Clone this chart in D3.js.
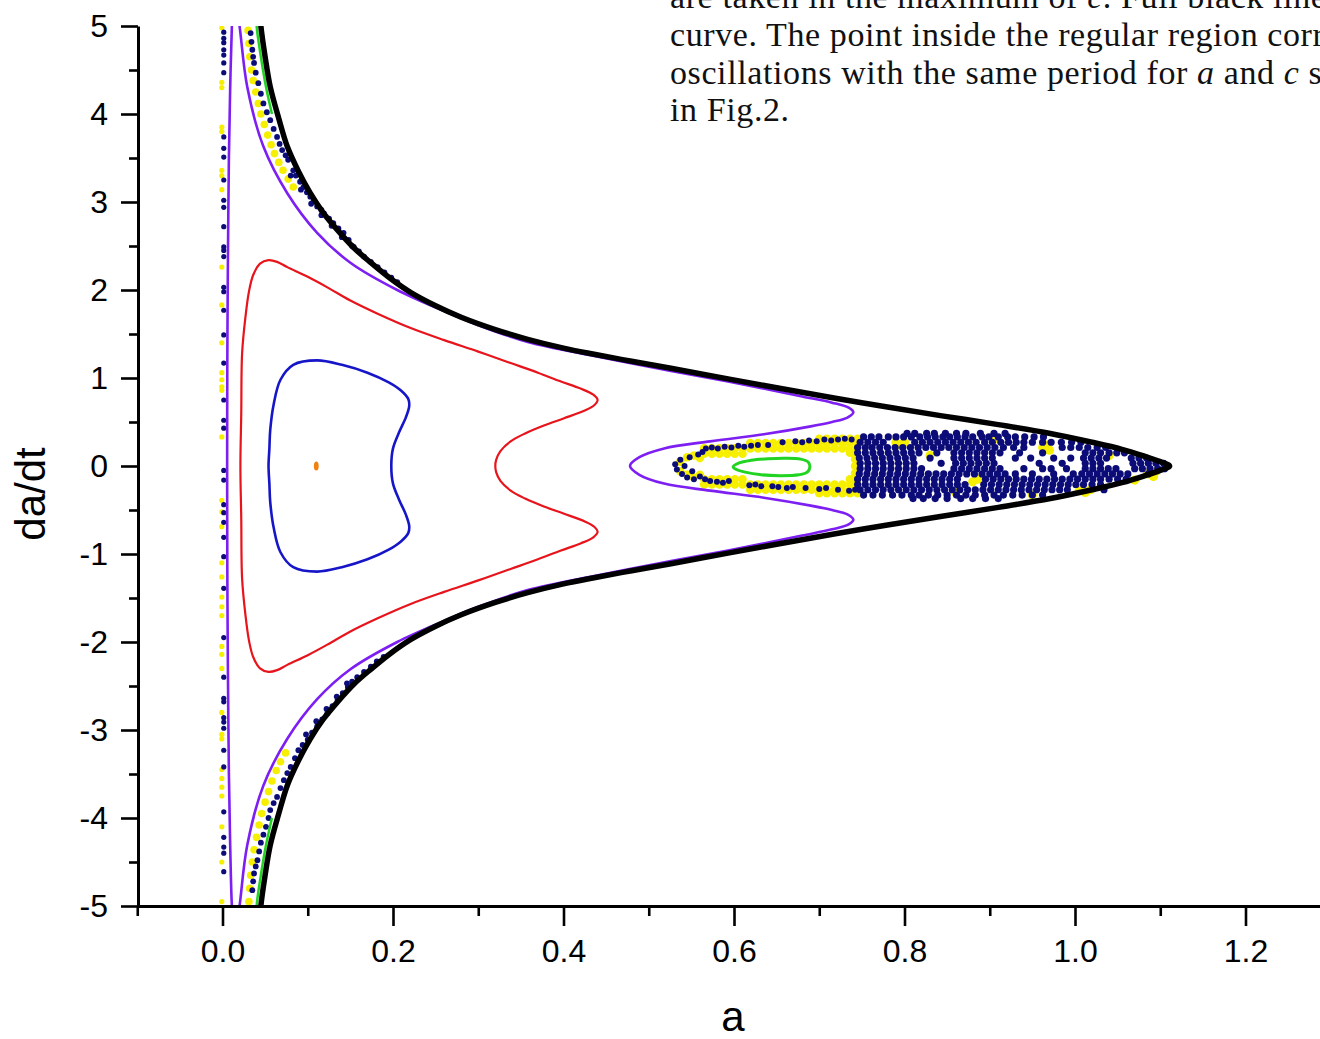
<!DOCTYPE html>
<html>
<head>
<meta charset="utf-8">
<script src="https://cdn.jsdelivr.net/npm/d3@7"></script>
<style>
  body { margin: 0; background: #fff; }
  svg { display: block; }
  .tick text { font-family: "Liberation Sans", Arial, sans-serif; }
</style>
</head>
<body>
<svg id="chart" width="1320" height="1039"></svg>
<script>
// axis ticks
var xMajor = [0, 0.2, 0.4, 0.6, 0.8, 1.0, 1.2];
var xMinor = [-0.1, 0.1, 0.3, 0.5, 0.7, 0.9, 1.1];
var yMajor = [-5, -4, -3, -2, -1, 0, 1, 2, 3, 4, 5];
var yMinor = [-4.5, -3.5, -2.5, -1.5, -0.5, 0.5, 1.5, 2.5, 3.5, 4.5];

// bounding curve (black), top -> tip -> bottom
var blackCurve = [
  [0.043,5.3],[0.045,5.0],[0.050,4.65],[0.056,4.31],[0.066,3.95],[0.076,3.63],[0.089,3.35],
  [0.103,3.10],[0.118,2.88],[0.135,2.68],[0.154,2.48],[0.174,2.31],[0.197,2.13],[0.221,1.97],
  [0.250,1.82],[0.280,1.69],[0.320,1.55],[0.358,1.44],[0.400,1.34],[0.436,1.27],[0.480,1.19],
  [0.526,1.11],[0.593,0.99],[0.655,0.88],[0.719,0.77],[0.780,0.67],[0.844,0.57],[0.910,0.47],
  [0.971,0.37],[1.020,0.27],[1.055,0.19],[1.082,0.11],[1.100,0.05],[1.111,0],
  [1.100,-0.05],[1.082,-0.11],[1.055,-0.19],[1.020,-0.27],[0.971,-0.37],[0.910,-0.47],
  [0.844,-0.57],[0.780,-0.67],[0.719,-0.77],[0.655,-0.88],[0.593,-0.99],[0.526,-1.11],
  [0.480,-1.19],[0.436,-1.27],[0.400,-1.34],[0.358,-1.44],[0.320,-1.55],[0.280,-1.69],
  [0.250,-1.82],[0.221,-1.97],[0.197,-2.13],[0.174,-2.31],[0.154,-2.48],[0.135,-2.68],
  [0.118,-2.88],[0.103,-3.10],[0.089,-3.35],[0.076,-3.63],[0.066,-3.95],[0.056,-4.31],
  [0.050,-4.65],[0.045,-5.0],[0.043,-5.3]
];

// thin green slivers next to the bounding curve
var greenEdgeTop = [[0.039,5.3],[0.040,5.0],[0.045,4.65],[0.051,4.31],[0.058,4.0]];
var greenEdgeBottom = [[0.039,-5.3],[0.040,-5.0],[0.045,-4.65],[0.051,-4.31],[0.058,-4.0]];

// violet orbit (closed, leaves the frame top and bottom)
var violetCurve = [
  [0.013,5.4],[0.011,5.0],[0.009,4.3],[0.0075,3.5],[0.0065,2.5],[0.0058,1.5],[0.0055,0.5],
  [0.0055,-0.5],[0.0058,-1.5],[0.0065,-2.5],[0.0075,-3.5],[0.009,-4.3],[0.011,-5.0],[0.014,-5.4],
  [0.020,-5.0],[0.029,-4.31],[0.048,-3.63],[0.076,-3.10],[0.111,-2.65],[0.150,-2.31],[0.205,-2.0],
  [0.260,-1.76],[0.300,-1.60],[0.358,-1.41],[0.436,-1.25],[0.526,-1.08],[0.593,-0.96],[0.640,-0.87],
  [0.680,-0.79],[0.715,-0.72],[0.735,-0.66],[0.740,-0.61],[0.733,-0.55],[0.715,-0.50],[0.690,-0.45],
  [0.635,-0.36],[0.572,-0.28],[0.518,-0.20],[0.489,-0.10],[0.478,0],[0.489,0.10],[0.518,0.20],
  [0.572,0.28],[0.635,0.36],[0.690,0.45],[0.715,0.50],[0.733,0.55],[0.740,0.61],[0.735,0.66],
  [0.715,0.72],[0.680,0.79],[0.640,0.87],[0.593,0.96],[0.526,1.08],[0.436,1.25],[0.358,1.41],
  [0.300,1.60],[0.260,1.76],[0.205,2.0],[0.150,2.31],[0.111,2.65],[0.076,3.10],[0.048,3.63],
  [0.029,4.31],[0.020,5.0],[0.014,5.4]
];

var redCurve = [
  [0.021,0],[0.022,0.6],[0.023,1.28],[0.027,1.70],[0.031,1.98],[0.036,2.17],[0.044,2.30],[0.054,2.34],
  [0.064,2.32],[0.076,2.26],[0.100,2.15],[0.123,2.03],[0.150,1.88],[0.182,1.73],[0.220,1.57],
  [0.260,1.43],[0.300,1.30],[0.338,1.17],[0.370,1.06],[0.397,0.96],[0.420,0.88],[0.435,0.81],
  [0.440,0.75],[0.436,0.69],[0.425,0.63],[0.400,0.54],[0.377,0.46],[0.355,0.37],[0.338,0.28],
  [0.326,0.17],[0.321,0.07],[0.320,0],
  [0.321,-0.07],[0.326,-0.17],[0.338,-0.28],[0.355,-0.37],[0.377,-0.46],[0.400,-0.54],[0.425,-0.63],
  [0.436,-0.69],[0.440,-0.75],[0.435,-0.81],[0.420,-0.88],[0.397,-0.96],[0.370,-1.06],[0.338,-1.17],
  [0.300,-1.30],[0.260,-1.43],[0.220,-1.57],[0.182,-1.73],[0.150,-1.88],[0.123,-2.03],[0.100,-2.15],
  [0.076,-2.26],[0.064,-2.32],[0.054,-2.34],[0.044,-2.30],[0.036,-2.17],[0.031,-1.98],[0.027,-1.70],
  [0.023,-1.28],[0.022,-0.6]
];

var blueCurve = [
  [0.054,0],[0.055,0.20],[0.056,0.41],[0.060,0.70],[0.068,0.98],[0.083,1.15],[0.111,1.20],[0.140,1.15],
  [0.170,1.06],[0.195,0.95],[0.209,0.86],[0.218,0.76],[0.219,0.68],[0.215,0.55],[0.207,0.38],
  [0.200,0.20],[0.198,0],
  [0.200,-0.20],[0.207,-0.38],[0.215,-0.55],[0.219,-0.68],[0.218,-0.76],[0.209,-0.86],[0.195,-0.95],
  [0.170,-1.06],[0.140,-1.15],[0.111,-1.20],[0.083,-1.15],[0.068,-0.98],[0.060,-0.70],[0.056,-0.41],
  [0.055,-0.20]
];

var greenCurve = [
  [0.599,-0.01],[0.606,0.035],[0.620,0.065],[0.640,0.082],[0.660,0.088],[0.678,0.078],[0.687,0.045],
  [0.689,-0.01],[0.686,-0.07],[0.676,-0.10],[0.655,-0.11],[0.632,-0.10],[0.613,-0.07],[0.603,-0.04]
];

var orangePoint = [0.110, 0];

// chaotic orbit: points on the a ~ 0 line
var columnNavyV = [4.93,4.86,4.81,4.73,4.67,4.58,4.47,3.74,3.61,3.51,3.25,3.02,2.94,2.72,2.49,2.45,2.38,
  2.03,1.98,1.77,1.49,1.17,0.75,0.52,0.43,-0.05,-0.16,-0.44,-0.53,-0.64,-0.81,-1.03,-1.39,-1.95,
  -2.40,-2.64,-2.68,-2.86,-2.91,-2.98,-3.23,-3.42,-3.93,-4.22,-4.33,-4.40,-4.61];
var columnYellowV = [4.98,4.36,4.30,3.85,3.80,3.36,3.30,3.14,2.26,1.83,1.40,1.06,0.98,0.90,0.86,0.33,
  -0.39,-0.52,-0.69,-1.10,-1.26,-1.49,-1.60,-1.70,-2.05,-2.14,-2.30,-2.80,-3.05,-3.10,-3.45,-3.55,
  -3.65,-3.75,-4.10,-4.50,-4.95];

// chaotic orbit: band along the bounding curve
var bandNavy = [
  [0.033,4.92],[0.034,4.82],[0.035,4.73],[0.036,4.65],[0.037,4.58],[0.039,4.47],[0.042,4.35],[0.045,4.23],
  [0.048,4.12],[0.052,4.02],[0.056,3.93],[0.060,3.83],[0.064,3.74],[0.067,3.66],[0.070,3.59],[0.074,3.53],
  [0.077,3.48],[0.083,3.36],[0.086,3.30],[0.091,3.23],[0.095,3.17],[0.099,3.11],[0.103,3.06],[0.107,3.02],
  [0.111,2.95],[0.116,2.91],[0.119,2.87],[0.125,2.81],[0.130,2.76],[0.136,2.70],[0.142,2.65],[0.148,2.57],
  [0.154,2.49],[0.160,2.44],[0.166,2.38],[0.174,2.32],[0.182,2.26],[0.190,2.20],[0.198,2.14],[0.205,2.09],
  [0.080,3.30],[0.092,3.14],[0.104,2.98],[0.116,2.85],[0.128,2.73],[0.140,2.60],[0.152,2.50],
  [0.035,-4.82],[0.036,-4.72],[0.037,-4.63],[0.039,-4.55],[0.041,-4.48],[0.043,-4.38],[0.045,-4.28],
  [0.048,-4.19],[0.051,-4.10],[0.054,-4.00],[0.056,-3.91],[0.060,-3.83],[0.064,-3.76],[0.068,-3.66],
  [0.072,-3.57],[0.076,-3.49],[0.080,-3.42],[0.085,-3.32],[0.089,-3.23],[0.094,-3.17],[0.100,-3.11],
  [0.105,-3.03],[0.111,-2.96],[0.117,-2.88],[0.123,-2.81],[0.129,-2.73],[0.135,-2.66],[0.141,-2.58],
  [0.147,-2.51],[0.152,-2.45],[0.158,-2.40],[0.166,-2.34],[0.174,-2.28],[0.181,-2.22],[0.189,-2.17],
  [0.098,-3.05],[0.110,-2.90],[0.122,-2.76],[0.134,-2.62],[0.146,-2.47]
];
var bandYellow = [
  [0.030,4.95],[0.031,4.80],[0.032,4.65],[0.034,4.50],[0.036,4.38],[0.039,4.25],[0.042,4.12],[0.045,4.00],
  [0.049,3.88],[0.053,3.76],[0.057,3.65],[0.061,3.55],[0.066,3.45],[0.071,3.36],[0.077,3.26],[0.083,3.17],
  [0.031,-4.95],[0.032,-4.80],[0.033,-4.65],[0.035,-4.50],[0.037,-4.36],[0.040,-4.22],[0.043,-4.08],
  [0.046,-3.95],[0.050,-3.82],[0.054,-3.70],[0.058,-3.58],[0.063,-3.46],[0.068,-3.36],[0.074,-3.26]
];

// chaotic orbit: ring round the green island
var ringNavy = [
  [0.567,0.20],[0.574,0.21],[0.581,0.20],[0.589,0.22],[0.597,0.21],[0.605,0.23],[0.612,0.22],[0.620,0.23],
  [0.628,0.24],[0.640,0.24],[0.657,0.27],[0.672,0.28],[0.680,0.27],[0.688,0.29],[0.697,0.28],[0.706,0.30],
  [0.714,0.29],[0.722,0.30],[0.730,0.31],[0.738,0.30],
  [0.531,0.02],[0.533,-0.04],[0.537,0.07],[0.539,-0.09],[0.542,0.00],[0.545,-0.13],[0.548,0.10],
  [0.551,-0.06],[0.553,-0.15],[0.558,0.13],[0.560,-0.12],[0.563,0.16],
  [0.566,-0.15],[0.572,-0.17],[0.580,-0.18],[0.587,-0.19],[0.594,-0.17],[0.618,-0.22],[0.625,-0.21],
  [0.632,-0.23],[0.645,-0.23],[0.652,-0.24],[0.662,-0.25],[0.669,-0.24],[0.684,-0.25],[0.700,-0.26],
  [0.708,-0.25],[0.722,-0.27],[0.735,-0.28],[0.742,-0.27]
];
var ringYellow = [
  [0.565,0.14],[0.574,0.14],[0.583,0.14],[0.592,0.14],[0.601,0.14],[0.610,0.14],
  [0.565,0.20],[0.574,0.20],[0.583,0.20],[0.592,0.20],[0.601,0.20],[0.610,0.20],
  [0.619,0.20],[0.628,0.20],[0.637,0.20],[0.646,0.20],[0.655,0.20],[0.664,0.20],[0.673,0.20],[0.682,0.20],
  [0.691,0.20],[0.700,0.20],[0.709,0.20],[0.718,0.20],[0.727,0.20],[0.736,0.20],[0.745,0.20],
  [0.619,0.26],[0.628,0.26],[0.637,0.26],[0.646,0.26],[0.655,0.26],[0.664,0.26],[0.673,0.26],[0.682,0.26],
  [0.691,0.26],[0.700,0.26],[0.709,0.26],[0.718,0.26],[0.727,0.26],[0.736,0.26],[0.745,0.26],
  [0.700,0.31],[0.709,0.31],[0.718,0.31],[0.727,0.31],[0.736,0.31],[0.745,0.31],
  [0.565,-0.15],[0.574,-0.15],[0.583,-0.15],[0.592,-0.15],[0.601,-0.15],[0.610,-0.15],
  [0.565,-0.21],[0.574,-0.21],[0.583,-0.21],[0.592,-0.21],[0.601,-0.21],[0.610,-0.21],
  [0.619,-0.21],[0.628,-0.21],[0.637,-0.21],[0.646,-0.21],[0.655,-0.21],[0.664,-0.21],[0.673,-0.21],
  [0.682,-0.21],[0.691,-0.21],[0.700,-0.21],[0.709,-0.21],[0.718,-0.21],[0.727,-0.21],[0.736,-0.21],
  [0.745,-0.21],
  [0.619,-0.27],[0.628,-0.27],[0.637,-0.27],[0.646,-0.27],[0.655,-0.27],[0.664,-0.27],[0.673,-0.27],
  [0.682,-0.27],[0.691,-0.27],[0.700,-0.27],[0.709,-0.27],[0.718,-0.27],[0.727,-0.27],[0.736,-0.27],
  [0.745,-0.27],
  [0.700,-0.31],[0.709,-0.31],[0.718,-0.31],[0.727,-0.31],[0.736,-0.31],[0.745,-0.31],
  [0.537,0.05],[0.537,-0.06],[0.545,0.10],[0.545,-0.10],[0.553,0.12],[0.553,-0.13],[0.560,0.09],[0.560,-0.10],
  [0.742,-0.15],[0.742,-0.08],[0.742,0.00],[0.742,0.08],[0.742,0.15],[0.736,0.15],[0.736,-0.15]
];

// chaotic orbit: dense cloud toward the tip, one row per da/dt level
var cloudRows = [
  [0.37, [0.803,0.812,0.826,0.835,0.848,0.861,0.872,0.889,0.905,0.918]],
  [0.33, [0.752,0.761,0.770,0.781,0.790,0.799,0.808,0.818,0.827,0.836,0.845,0.853,0.862,0.871,0.880,
          0.891,0.899,0.910,0.921,0.930,0.941,0.952,0.963]],
  [0.27, [0.748,0.757,0.766,0.775,0.812,0.821,0.830,0.839,0.848,0.857,0.866,0.875,0.884,0.894,0.903,
          0.913,0.922,0.931,0.940,0.950,0.962,0.972,0.984,0.996,1.007]],
  [0.21, [0.745,0.754,0.762,0.771,0.780,0.789,0.798,0.807,0.816,0.825,0.834,0.843,0.852,0.861,0.870,
          0.879,0.888,0.897,0.906,0.916,0.928,0.940,0.985,0.995,1.005,1.015,1.026,1.036]],
  [0.15, [0.745,0.754,0.763,0.772,0.781,0.790,0.799,0.808,0.817,0.838,0.858,0.867,0.876,0.885,0.894,
          0.903,0.912,0.935,0.962,1.012,1.021,1.030,1.040,1.049,1.058]],
  [0.09, [0.747,0.756,0.765,0.774,0.783,0.792,0.801,0.810,0.830,0.858,0.867,0.876,0.885,0.894,0.903,
          0.930,0.948,0.975,0.995,1.010,1.019,1.028,1.037,1.066,1.075,1.084]],
  [0.03, [0.748,0.757,0.766,0.775,0.784,0.793,0.802,0.811,0.843,0.860,0.869,0.878,0.887,0.896,0.905,
          0.958,0.985,1.012,1.021,1.030,1.068,1.077,1.086,1.095,1.104]],
  [-0.03, [0.748,0.757,0.766,0.775,0.784,0.793,0.802,0.811,0.820,0.858,0.867,0.876,0.885,0.894,0.903,
           0.912,0.940,0.962,0.972,0.990,1.012,1.021,1.030,1.039,1.048,1.070,1.079,1.088,1.097,1.105]],
  [-0.09, [0.747,0.756,0.765,0.774,0.783,0.792,0.801,0.810,0.819,0.828,0.837,0.846,0.855,0.864,0.873,
           0.882,0.891,0.900,0.909,0.918,0.930,0.950,0.975,0.998,1.008,1.017,1.026,1.035,1.044,1.053,
           1.062,1.086]],
  [-0.15, [0.745,0.754,0.763,0.772,0.781,0.790,0.799,0.808,0.817,0.826,0.835,0.844,0.853,0.862,0.895,
           0.904,0.913,0.922,0.931,0.940,0.949,0.958,0.967,0.976,0.985,0.994,1.003,1.012,1.021,1.030,
           1.040,1.050,1.060]],
  [-0.21, [0.745,0.754,0.763,0.772,0.781,0.790,0.799,0.808,0.817,0.826,0.835,0.844,0.853,0.862,0.871,
           0.893,0.902,0.911,0.920,0.929,0.938,0.947,0.956,0.965,0.974,0.983,0.992,1.001,1.010,1.020,1.030]],
  [-0.27, [0.748,0.757,0.766,0.775,0.784,0.793,0.802,0.811,0.820,0.829,0.838,0.847,0.856,0.865,0.874,
           0.883,0.892,0.901,0.910,0.919,0.928,0.937,0.946,0.955,0.964,0.973,0.982,0.991,1.034]],
  [-0.33, [0.752,0.763,0.774,0.786,0.797,0.808,0.817,0.828,0.839,0.850,0.861,0.872,0.883,0.894,0.905,
           0.916,0.927,0.938,0.950,0.962]],
  [-0.37, [0.810,0.822,0.836,0.850,0.866,0.880,0.895,0.910]]
];
var cloudYellow = [
  [0.790,0.27],[0.800,0.27],[0.795,0.24],[0.880,-0.18],[0.886,-0.15],[0.962,0.21],[0.970,0.18],
  [0.968,0.24],[1.005,-0.27],[1.018,-0.27],[1.012,-0.30],[1.085,-0.09],[1.095,-0.06],[1.092,-0.12],
  [0.830,0.12],[0.905,0.30],[1.040,0.12],[0.860,-0.30],[0.950,-0.33],[1.070,-0.16]
];

var textLines = [
  {y: 8,   parts: [["are taken in the maximum of ", false], ["c", true], [". Full black line is the bounding", false]]},
  {y: 46,  parts: [["curve. The point inside the regular region corresponds to", false]]},
  {y: 84,  parts: [["oscillations with the same period for ", false], ["a", true], [" and ", false], ["c", true], [" shown", false]]},
  {y: 121, parts: [["in Fig.2.", false]]}
];

var svg = d3.select("#chart");
var x = d3.scaleLinear().domain([-0.1, 1.3]).range([137.25, 1330.75]);
var y = d3.scaleLinear().domain([-5, 5]).range([906, 26]);

svg.append("rect").attr("width", 1320).attr("height", 1039).attr("fill", "#fff");

svg.append("clipPath").attr("id", "plotClip")
  .append("rect").attr("x", 138).attr("y", 26).attr("width", 1200).attr("height", 880);

var plot = svg.append("g").attr("clip-path", "url(#plotClip)");

function dots(data, r, color) {
  plot.append("g").selectAll("circle")
    .data(data)
    .enter().append("circle")
      .attr("cx", function(d) { return x(d[0]); })
      .attr("cy", function(d) { return y(d[1]); })
      .attr("r", r)
      .attr("fill", color);
}

var yellow = "#f7ef00", navy = "#0c0c78";

dots(columnYellowV.map(function(v) { return [-0.0008, v]; }), 2.6, yellow);
dots(bandYellow, 3.8, yellow);
dots(ringYellow, 4.3, yellow);
dots(cloudYellow, 4.6, yellow);

var cloudNavy = [];
cloudRows.forEach(function(row) {
  row[1].forEach(function(a) { cloudNavy.push([a, row[0]]); });
});

dots(columnNavyV.map(function(v) { return [0.0015, v]; }), 2.6, navy);
dots(bandNavy, 2.9, navy);
dots(ringNavy, 3.0, navy);
dots(cloudNavy, 3.6, navy);

var line = d3.line()
  .x(function(d) { return x(d[0]); })
  .y(function(d) { return y(d[1]); });

function curve(data, closed, color, width) {
  plot.append("path")
    .datum(data)
    .attr("fill", "none")
    .attr("stroke", color)
    .attr("stroke-width", width)
    .attr("stroke-linejoin", "round")
    .attr("d", line.curve(closed ? d3.curveCatmullRomClosed : d3.curveCatmullRom)(data));
}

curve(greenEdgeTop, false, "#22d422", 2.5);
curve(greenEdgeBottom, false, "#22d422", 2.5);
curve(violetCurve, true, "#7d1ff2", 2.6);
curve(redCurve, true, "#e8141c", 2.2);
curve(blueCurve, true, "#1616c8", 2.6);
curve(greenCurve, true, "#22d422", 3);
curve(blackCurve, false, "#000", 5.5);

plot.append("ellipse")
  .attr("cx", x(orangePoint[0]))
  .attr("cy", y(orangePoint[1]))
  .attr("rx", 2.4).attr("ry", 4.5)
  .attr("fill", "#f08010");

// axes (plain hyphen for negatives, as in the original)
var fmtX = d3.format(".1f");
var fmtY = function(d) { return String(d); };
svg.append("g").attr("transform", "translate(0,906)")
  .call(d3.axisBottom(x).tickValues(xMajor).tickFormat(fmtX).tickSize(20).tickSizeOuter(0).tickPadding(13));
svg.append("g").attr("transform", "translate(0,906)")
  .call(d3.axisBottom(x).tickValues(xMinor).tickFormat("").tickSize(10).tickSizeOuter(0))
  .select(".domain").remove();

svg.append("g").attr("transform", "translate(138,0)")
  .call(d3.axisLeft(y).tickValues(yMajor).tickFormat(fmtY).tickSize(17).tickSizeOuter(0).tickPadding(13));
svg.append("g").attr("transform", "translate(138,0)")
  .call(d3.axisLeft(y).tickValues(yMinor).tickFormat("").tickSize(9).tickSizeOuter(0))
  .select(".domain").remove();

svg.selectAll(".domain").attr("stroke", "#000").attr("stroke-width", 3);
svg.selectAll(".tick line").attr("stroke", "#000").attr("stroke-width", 2.6);
svg.selectAll(".tick text").attr("font-size", 32).attr("fill", "#000");

svg.append("text")
  .attr("x", 733).attr("y", 1031)
  .attr("text-anchor", "middle")
  .attr("font-family", "Liberation Sans, Arial, sans-serif")
  .attr("font-size", 42)
  .text("a");

svg.append("text")
  .attr("transform", "translate(45,494) rotate(-90)")
  .attr("text-anchor", "middle")
  .attr("font-family", "Liberation Sans, Arial, sans-serif")
  .attr("font-size", 42)
  .text("da/dt");

// caption fragment
textLines.forEach(function(l) {
  var t = svg.append("text")
    .attr("x", 670).attr("y", l.y)
    .attr("font-family", "Liberation Serif, Times New Roman, serif")
    .attr("font-size", 34)
    .attr("letter-spacing", 0.6)
    .attr("fill", "#111");
  l.parts.forEach(function(p) {
    t.append("tspan").attr("font-style", p[1] ? "italic" : null).text(p[0]);
  });
});
</script>
</body>
</html>
